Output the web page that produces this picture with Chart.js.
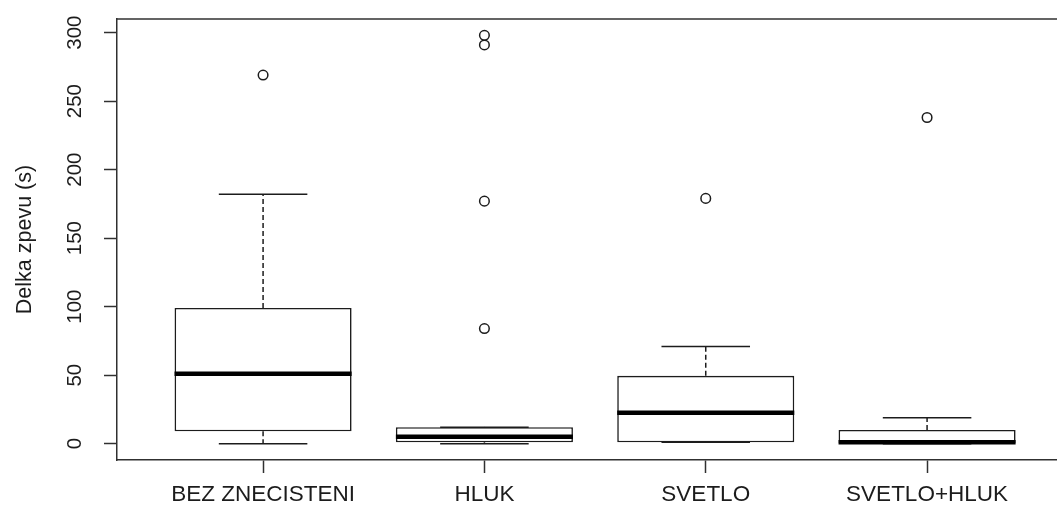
<!DOCTYPE html>
<html>
<head>
<meta charset="utf-8">
<script src="https://cdn.jsdelivr.net/npm/chart.js@4.4.1/dist/chart.umd.min.js"></script>
<style>
  html, body { margin: 0; padding: 0; background: #ffffff; overflow: hidden; }
  #wrap { width: 1057px; height: 513px; }
</style>
</head>
<body>
<div id="wrap"><canvas id="c" width="1057" height="513"></canvas></div>
<script>
// Song duration per treatment group (five-number summaries plus outliers)
const categories  = ['BEZ ZNECISTENI', 'HLUK', 'SVETLO', 'SVETLO+HLUK'];
const whiskerLow  = [0, 0, 1, 0];
const quartile1   = [9, 1, 1, 0.5];
const medians     = [51, 5, 22.5, 1];
const quartile3   = [99, 12, 49.5, 10];
const whiskerHigh = [182, 12, 71, 19];
const outliers    = [[269], [298, 291, 177, 84], [179], [238]];
const yTicks      = [0, 50, 100, 150, 200, 250, 300];

const INK = '#1c1c1c';
const FRAME = '#303030';
const FONT = "'Liberation Sans', Arial, sans-serif";

const boxData = categories.map((c, i) => ({ x: i + 1, y: [quartile1[i], quartile3[i]] }));
const outlierData = [];
outliers.forEach((list, i) => list.forEach(v => outlierData.push({ x: i + 1, y: v })));

// Whiskers, caps, medians and the top frame line, placed with the chart's scales
const boxPlotExtras = {
  id: 'boxPlotExtras',
  afterDatasetsDraw(chart) {
    const { ctx, chartArea, scales: { y } } = chart;
    const bars = chart.getDatasetMeta(0).data;
    const seg = (x1, y1, x2, y2) => { ctx.beginPath(); ctx.moveTo(x1, y1); ctx.lineTo(x2, y2); ctx.stroke(); };
    ctx.save();
    ctx.beginPath();
    ctx.rect(chartArea.left, chartArea.top, chartArea.right - chartArea.left, chartArea.bottom - chartArea.top);
    ctx.clip();
    categories.forEach((c, i) => {
      const bar = bars[i];
      const cx = bar.x;
      const half = bar.width / 2;
      const capHalf = bar.width / 4;
      ctx.strokeStyle = INK;
      ctx.lineWidth = 1.5;
      ctx.setLineDash([5, 3]);
      seg(cx, y.getPixelForValue(quartile3[i]), cx, y.getPixelForValue(whiskerHigh[i]));
      seg(cx, y.getPixelForValue(quartile1[i]), cx, y.getPixelForValue(whiskerLow[i]));
      ctx.setLineDash([]);
      seg(cx - capHalf, y.getPixelForValue(whiskerHigh[i]), cx + capHalf, y.getPixelForValue(whiskerHigh[i]));
      seg(cx - capHalf, y.getPixelForValue(whiskerLow[i]), cx + capHalf, y.getPixelForValue(whiskerLow[i]));
      ctx.lineWidth = 4.5;
      ctx.strokeStyle = '#000';
      seg(cx - half, y.getPixelForValue(medians[i]), cx + half, y.getPixelForValue(medians[i]));
    });
    ctx.restore();
    ctx.save();
    ctx.strokeStyle = FRAME;
    ctx.lineWidth = 1.5;
    seg(chartArea.left, chartArea.top, chartArea.right, chartArea.top);
    ctx.restore();
  }
};

new Chart(document.getElementById('c'), {
  type: 'bar',
  data: {
    datasets: [
      {
        data: boxData,
        backgroundColor: '#ffffff',
        borderColor: INK,
        borderWidth: 1.6,
        borderSkipped: false,
        barPercentage: 1,
        categoryPercentage: 0.8,
        order: 2
      },
      {
        type: 'scatter',
        data: outlierData,
        showLine: false,
        pointStyle: 'circle',
        pointRadius: 4.8,
        pointBorderWidth: 1.5,
        pointBorderColor: INK,
        pointBackgroundColor: 'rgba(255,255,255,0)',
        order: 1
      }
    ]
  },
  options: {
    responsive: false,
    animation: false,
    events: [],
    layout: { autoPadding: false, padding: { top: 19, left: 0, right: 0, bottom: 0 } },
    plugins: { legend: { display: false }, tooltip: { enabled: false } },
    scales: {
      x: {
        type: 'linear',
        offset: false,
        min: 0.34,
        max: 4.587,
        afterBuildTicks: s => { s.ticks = categories.map((c, i) => ({ value: i + 1 })); },
        afterFit: s => { s.height = 53; s.paddingLeft = 0; s.paddingRight = 0; },
        ticks: {
          autoSkip: false,
          maxRotation: 0,
          padding: 8,
          color: INK,
          font: { family: FONT, size: 22.5 },
          callback: v => categories[v - 1]
        },
        grid: { offset: false, drawOnChartArea: false, drawTicks: true, tickLength: 13, color: FRAME, tickWidth: 1.5 },
        border: { display: true, color: FRAME, width: 1.5 }
      },
      y: {
        type: 'linear',
        min: -11.92,
        max: 309.92,
        afterBuildTicks: s => { s.ticks = yTicks.map(v => ({ value: v })); },
        afterFit: s => { s.width = 117; s.paddingTop = 0; s.paddingBottom = 0; },
        ticks: {
          minRotation: 90,
          maxRotation: 90,
          crossAlign: 'center',
          padding: 12,
          color: INK,
          font: { family: FONT, size: 20.5 }
        },
        title: {
          display: true,
          text: 'Delka zpevu (s)',
          color: INK,
          font: { family: FONT, size: 21.5 },
          padding: { top: 12, bottom: 0 }
        },
        grid: { drawOnChartArea: false, drawTicks: true, tickLength: 13, color: FRAME, tickWidth: 1.5 },
        border: { display: true, color: FRAME, width: 1.5 }
      }
    }
  },
  plugins: [boxPlotExtras]
});
</script>
</body>
</html>
